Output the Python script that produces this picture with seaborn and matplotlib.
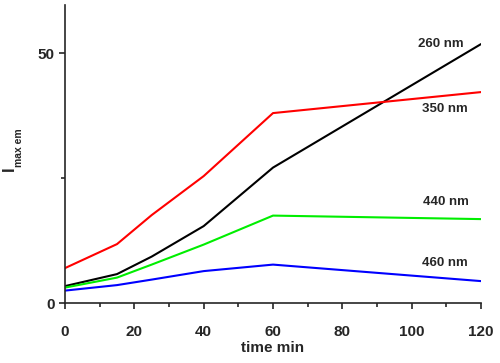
import matplotlib
matplotlib.use("Agg")
import matplotlib.pyplot as plt
import seaborn as sns
import pandas as pd
from matplotlib.ticker import MultipleLocator

time_min = [0, 15, 25, 40, 60, 120]
i_260 = [3.4, 5.8, 9.3, 15.4, 27.1, 51.8]
i_350 = [7.0, 11.8, 17.6, 25.4, 38.0, 42.2]
i_440 = [3.1, 5.1, 7.7, 11.7, 17.5, 16.8]
i_460 = [2.5, 3.6, 4.7, 6.4, 7.7, 4.4]
series_names = ["260 nm", "350 nm", "440 nm", "460 nm"]
colors = ["#000000", "#ff0000", "#00ee00", "#0000ff"]

rows = []
for name, vals in zip(series_names, [i_260, i_350, i_440, i_460]):
    for t, v in zip(time_min, vals):
        rows.append({"time": t, "I": v, "series": name})
df = pd.DataFrame(rows)

sns.set_style("ticks")
plt.rcParams["font.family"] = ["Liberation Sans", "DejaVu Sans"]
plt.rcParams["font.weight"] = "bold"

fig = plt.figure(figsize=(5, 3.63), dpi=100)
ax = fig.add_axes([0.13, 0.165, 0.832, 0.821])
sns.lineplot(data=df, x="time", y="I", hue="series", palette=colors,
             hue_order=series_names, linewidth=1.5, legend=False, ax=ax)

ax.set_xlim(0, 120)
ax.set_ylim(0, 59.6)
ax.xaxis.set_major_locator(MultipleLocator(20))
ax.xaxis.set_minor_locator(MultipleLocator(10))
ax.yaxis.set_major_locator(MultipleLocator(50))
ax.yaxis.set_minor_locator(MultipleLocator(25))
ax.tick_params(which="major", direction="out", length=4, width=1.2, labelsize=11)
ax.tick_params(axis="x", which="major", pad=12)
ax.tick_params(axis="y", which="major", pad=3.5)
ax.tick_params(which="minor", direction="out", length=3, width=1.2)
for lab in ax.get_xticklabels() + ax.get_yticklabels():
    lab.set_fontweight("bold")
for s in ["top", "right"]:
    ax.spines[s].set_visible(False)
for s in ["left", "bottom"]:
    ax.spines[s].set_linewidth(1.2)

ax.set_xlabel("time min", fontsize=11, fontweight="bold", labelpad=1)
ax.set_ylabel("")
fig.text(0.018, 0.536, "I", fontsize=12, fontweight="bold", rotation=90, va="center", ha="center")
fig.text(0.037, 0.592, "max em", fontsize=7.5, fontweight="bold", rotation=90, va="center", ha="center")

label_pos = {"260 nm": (101.8, 51.9), "350 nm": (103, 38.8), "440 nm": (103.3, 20.3), "460 nm": (103, 8.0)}
for name in series_names:
    x, y = label_pos[name]
    ax.text(x, y, name, fontsize=9.5, fontweight="bold", ha="left", va="center")

fig.savefig("out.png", dpi=100)
